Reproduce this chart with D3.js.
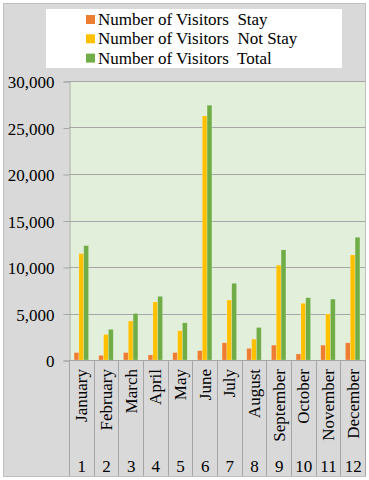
<!DOCTYPE html>
<html>
<head>
<meta charset="utf-8">
<script src="https://cdn.jsdelivr.net/npm/d3@7"></script>
<style>
  html, body { margin: 0; padding: 0; background: #ffffff; }
  svg { display: block; }
  svg text { font-family: "Liberation Serif", "Times New Roman", Times, serif !important; fill: #000; }
</style>
</head>
<body>
<svg id="chart" width="369" height="480"></svg>
<script>
const months = ["January","February","March","April","May","June","July","August","September","October","November","December"];
const monthNumbers = ["1","2","3","4","5","6","7","8","9","10","11","12"];
const seriesNames = ["Number of Visitors  Stay","Number of Visitors  Not Stay","Number of Visitors  Total"];
const stay    = [800, 500, 800, 550, 800, 1000, 1850, 1250, 1600, 650, 1600, 1850];
const notStay = [11450, 2750, 4200, 6250, 3150, 26250, 6450, 2250, 10200, 6100, 4950, 11300];
const total   = [12300, 3300, 5000, 6850, 4000, 27400, 8250, 3500, 11850, 6700, 6550, 13200];
const yTicks  = [0, 5000, 10000, 15000, 20000, 25000, 30000];
const colors  = ["#ED7D31", "#FFC000", "#70AD47"];

const FONT = '"Liberation Serif", "Times New Roman", Times, serif';
const svg = d3.select("#chart");
const frame = {l: 3, t: 3, r: 366, b: 476};
const plot = {l: 69, t: 81, r: 365, b: 360};

// outer chart area
svg.append("rect").attr("x", frame.l + 0.5).attr("y", frame.t + 0.5)
  .attr("width", frame.r - frame.l - 1).attr("height", frame.b - frame.t)
  .attr("fill", "#d9d9d9").attr("stroke", "#bfbfbf").attr("stroke-width", 1);

// plot area
svg.append("rect").attr("x", plot.l).attr("y", plot.t)
  .attr("width", plot.r - plot.l).attr("height", plot.b - plot.t)
  .attr("fill", "#e2efda");

const x = d3.scaleBand().domain(months).range([plot.l, plot.r]).paddingInner(0).paddingOuter(0);
const y = d3.scaleLinear().domain([0, 30000]).range([plot.b, plot.t]);
const inner = d3.scaleBand().domain([0, 1, 2]).range([0, x.bandwidth()]).paddingOuter(1.05).paddingInner(0);

// gridlines
svg.append("g").selectAll("line").data(yTicks.filter(d => d > 0)).join("line")
  .attr("x1", plot.l).attr("x2", plot.r)
  .attr("y1", d => Math.round(y(d)) + 0.5).attr("y2", d => Math.round(y(d)) + 0.5)
  .attr("stroke", "#a6a6a6").attr("stroke-width", 1);

// y axis
const yAxis = d3.axisLeft(y).tickValues(yTicks).tickSize(6).tickPadding(9)
  .tickFormat(d3.format(","));
const gy = svg.append("g").attr("transform", `translate(${plot.l + 0.5},0.5)`).call(yAxis)
  .attr("font-family", FONT).attr("font-size", 17);
gy.select(".domain").attr("stroke", "#a6a6a6");
gy.selectAll(".tick line").attr("stroke", "#a6a6a6");
gy.selectAll(".tick text").style("font-family", FONT).style("font-size", "17px").attr("fill", "#000").attr("dy", "0.36em");

// bars
const data = months.map((m, i) => ({m, vals: [stay[i], notStay[i], total[i]]}));
const groups = svg.append("g").selectAll("g").data(data).join("g")
  .attr("transform", d => `translate(${x(d.m)},0)`);
groups.selectAll("rect").data(d => d.vals.map((v, k) => ({v, k}))).join("rect")
  .attr("x", d => inner(d.k))
  .attr("width", inner.bandwidth())
  .attr("y", d => y(d.v))
  .attr("height", d => y(0) - y(d.v))
  .attr("fill", d => colors[d.k])
  .attr("stroke", "rgba(255,255,255,0.35)").attr("stroke-width", 0.6);

// baseline
svg.append("line").attr("x1", plot.l).attr("x2", plot.r)
  .attr("y1", plot.b + 0.5).attr("y2", plot.b + 0.5).attr("stroke", "#a6a6a6");

// category separators
const seps = months.map(m => x(m)).concat([plot.r]);
svg.append("g").selectAll("line").data(seps).join("line")
  .attr("x1", d => Math.round(d) + 0.5).attr("x2", d => Math.round(d) + 0.5)
  .attr("y1", plot.b).attr("y2", frame.b)
  .attr("stroke", "#a6a6a6");

// month labels (rotated)
svg.append("g").selectAll("text").data(months).join("text")
  .attr("transform", d => `translate(${x(d) + x.bandwidth() / 2 + 6},${plot.b + 9}) rotate(-90)`)
  .attr("text-anchor", "end")
  .style("font-family", FONT).style("font-size", "17px")
  .text(d => d);

// number labels
svg.append("g").selectAll("text").data(monthNumbers).join("text")
  .attr("x", (d, i) => x(months[i]) + x.bandwidth() / 2 + 0.5)
  .attr("y", 472)
  .attr("text-anchor", "middle")
  .style("font-family", FONT).style("font-size", "17px")
  .text(d => d);

// legend
svg.append("rect").attr("x", 46).attr("y", 9).attr("width", 296).attr("height", 59).attr("fill", "#ffffff");
const lg = svg.append("g").selectAll("g").data(seriesNames).join("g")
  .attr("transform", (d, i) => `translate(86,${25 + i * 19.3})`);
lg.append("rect").attr("x", 0).attr("y", -10).attr("width", 9).attr("height", 9)
  .attr("fill", (d, i) => colors[i]);
lg.append("text").attr("x", 12).attr("y", 0)
  .style("font-family", FONT).style("font-size", "17px")
  .style("white-space", "pre").text(d => d);
</script>
</body>
</html>
